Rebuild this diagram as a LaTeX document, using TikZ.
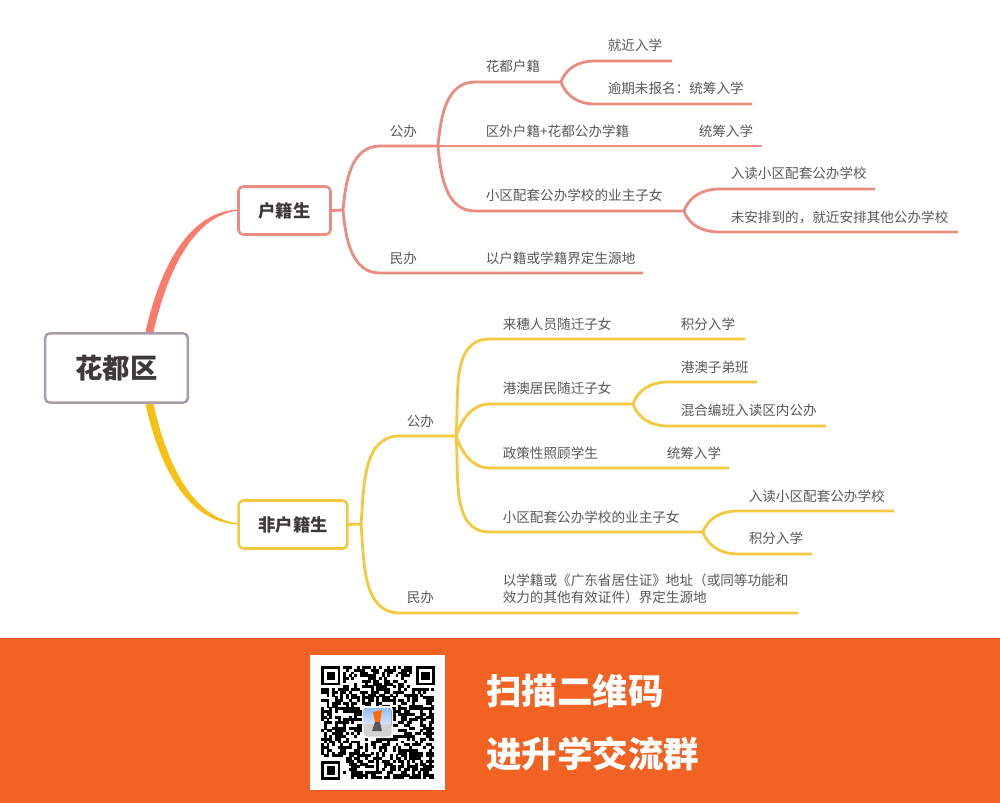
\documentclass[tikz,border=0pt]{standalone}
\usepackage{fontspec}
\setmainfont{Noto Sans CJK SC}
\usetikzlibrary{calc}
\definecolor{redline}{HTML}{EA8C80}
\definecolor{redroot}{HTML}{FB7A6A}
\definecolor{yelline}{HTML}{F5C93E}
\definecolor{yelroot}{HTML}{F6C014}
\definecolor{rootedge}{HTML}{A79DAB}
\definecolor{lbltext}{HTML}{595959}
\definecolor{boxtext}{HTML}{3F3A3A}
\definecolor{banner}{HTML}{F26222}
\tikzset{
	rootbox/.style={draw=rootedge, line width=1.9pt, rounded corners=3.5pt, fill=white, minimum width=107pt, minimum height=52pt, text=boxtext, font=\fontsize{20.5}{22}\selectfont\bfseries},
	catbox/.style={line width=1.9pt, rounded corners=3.5pt, fill=white, minimum height=36pt, text=boxtext, font=\fontsize{13}{15}\selectfont\bfseries},
	lbl/.style={anchor=west, inner sep=0pt, text=lbltext, font=\fontsize{10.2}{12.75}\selectfont},
	bigtext/.style={anchor=west, inner sep=0pt, text=white, font=\fontsize{26.6}{30}\selectfont\bfseries},
	branchred/.style={draw=redline, line width=2.1pt},
	branchyel/.style={draw=yelline, line width=2.1pt}
}
\begin{document}
\begin{tikzpicture}[x=0.75pt, y=-0.75pt]
	\useasboundingbox (0, 0) rectangle (1000, 803);
	\fill[white] (0, 0) rectangle (1000, 803);
	
	%%%%% tapered main branches
	\fill[redroot] (145, 334) .. controls (158, 275) and (185, 212) .. (238, 209.5) -- (238, 210.5) .. controls (192, 216) and (166, 275) .. (153, 334) -- cycle;
	\fill[yelroot] (145, 402) .. controls (158, 462) and (185, 522) .. (238, 524.5) -- (238, 523.5) .. controls (192, 518) and (166, 462) .. (153, 402) -- cycle;
	
	%%%%% boxes
	\node[rootbox] (root) at (116.5, 368) {花都区};
	\node[catbox, draw=redline, minimum width=69pt] (huji) at (284.5, 210.5) {户籍生};
	\node[catbox, draw=yelline, minimum width=81.5pt] (feihuji) at (293, 524.5) {非户籍生};
	
	%%%%% upper part
	\coordinate (rj) at (343, 210);
	\coordinate (rpubA) at (380, 146);
	\coordinate (rpubJ) at (438, 146);
	\coordinate (rpriA) at (380, 273);
	\coordinate (rpriE) at (643, 273);
	\coordinate (huaA) at (475, 82);
	\coordinate (huaJ) at (561, 82);
	\coordinate (jinA) at (595, 61);
	\coordinate (jinE) at (672, 61);
	\coordinate (yuA) at (595, 104);
	\coordinate (yuE) at (752, 104);
	\coordinate (quE) at (762, 146);
	\coordinate (xiaoA) at (475, 211);
	\coordinate (xiaoJ) at (684, 211);
	\coordinate (ruA) at (720, 189);
	\coordinate (ruE) at (875, 189);
	\coordinate (weiA) at (720, 232);
	\coordinate (weiE) at (958, 232);
	
	\draw[branchred] (huji.east) -- (rj);
	\draw[branchred] (rj) to[out=85, in=180] (rpubA) -- (rpubJ);
	\draw[branchred] (rj) to[out=-85, in=180] (rpriA) -- (rpriE);
	\draw[branchred] (rpubJ) to[out=85, in=180] (huaA) -- (huaJ);
	\draw[branchred] (rpubJ) -- (quE);
	\draw[branchred] (rpubJ) to[out=-85, in=180] (xiaoA) -- (xiaoJ);
	\draw[branchred] (huaJ) to[out=70, in=180] (jinA) -- (jinE);
	\draw[branchred] (huaJ) to[out=-70, in=180] (yuA) -- (yuE);
	\draw[branchred] (xiaoJ) to[out=70, in=180] (ruA) -- (ruE);
	\draw[branchred] (xiaoJ) to[out=-70, in=180] (weiA) -- (weiE);
	
	\node[lbl] (rpub) at (389.5, 131) {公办};
	\node[lbl] (rpri) at (389.5, 258) {民办};
	\node[lbl] (hua) at (485.5, 66) {花都户籍};
	\node[lbl] (jin) at (607.5, 45) {就近入学};
	\node[lbl] (yu) at (607.5, 88) {逾期未报名^^^^ff1a统筹入学};
	\node[lbl] (qu) at (485.5, 131) {区外户籍+花都公办学籍};
	\node[lbl] (tong) at (698.5, 131) {统筹入学};
	\node[lbl] (xiao) at (485.5, 195) {小区配套公办学校的业主子女};
	\node[lbl] (ru) at (730.5, 173) {入读小区配套公办学校};
	\node[lbl] (wei) at (730.5, 217) {未安排到的^^^^ff0c就近安排其他公办学校};
	\node[lbl] (yihu) at (485.5, 258) {以户籍或学籍界定生源地};
	
	%%%%% lower part
	\coordinate (yj) at (361, 524);
	\coordinate (ypubA) at (400, 436);
	\coordinate (ypubJ) at (456, 436);
	\coordinate (ypriA) at (400, 613);
	\coordinate (ypriE) at (798, 613);
	\coordinate (laiA) at (490, 339);
	\coordinate (laiE) at (745, 339);
	\coordinate (gangA) at (490, 404);
	\coordinate (gangJ) at (633, 404);
	\coordinate (ziA) at (668, 382);
	\coordinate (ziE) at (757, 382);
	\coordinate (hunA) at (668, 426);
	\coordinate (hunE) at (826, 426);
	\coordinate (zhengA) at (490, 468);
	\coordinate (zhengE) at (729, 468);
	\coordinate (yeA) at (490, 532);
	\coordinate (yeJ) at (703, 532);
	\coordinate (duA) at (738, 511);
	\coordinate (duE) at (894, 511);
	\coordinate (jiA) at (738, 554);
	\coordinate (jiE) at (812, 554);
	
	\draw[branchyel] (feihuji.east) -- (yj);
	\draw[branchyel] (yj) to[out=85, in=180] (ypubA) -- (ypubJ);
	\draw[branchyel] (yj) to[out=-85, in=180] (ypriA) -- (ypriE);
	\draw[branchyel] (ypubJ) to[out=85, in=180] (laiA) -- (laiE);
	\draw[branchyel] (ypubJ) to[out=70, in=180] (gangA) -- (gangJ);
	\draw[branchyel] (ypubJ) to[out=-70, in=180] (zhengA) -- (zhengE);
	\draw[branchyel] (ypubJ) to[out=-85, in=180] (yeA) -- (yeJ);
	\draw[branchyel] (gangJ) to[out=70, in=180] (ziA) -- (ziE);
	\draw[branchyel] (gangJ) to[out=-70, in=180] (hunA) -- (hunE);
	\draw[branchyel] (yeJ) to[out=70, in=180] (duA) -- (duE);
	\draw[branchyel] (yeJ) to[out=-70, in=180] (jiA) -- (jiE);
	
	\node[lbl] (ypub) at (406.5, 421) {公办};
	\node[lbl] (ypri) at (406.5, 597) {民办};
	\node[lbl] (lai) at (502.5, 324) {来穗人员随迁子女};
	\node[lbl] (jifen) at (680.5, 324) {积分入学};
	\node[lbl] (gang) at (502.5, 388) {港澳居民随迁子女};
	\node[lbl] (zi) at (680.5, 367) {港澳子弟班};
	\node[lbl] (hun) at (680.5, 410) {混合编班入读区内公办};
	\node[lbl] (zheng) at (502.5, 453) {政策性照顾学生};
	\node[lbl] (tongB) at (666.5, 453) {统筹入学};
	\node[lbl] (ye) at (502.5, 517) {小区配套公办学校的业主子女};
	\node[lbl] (du) at (748.5, 496) {入读小区配套公办学校};
	\node[lbl] (ji) at (748.5, 538) {积分入学};
	\node[lbl, align=left] (yixue) at (502.5, 588.5) {以学籍或《广东省居住证》地址^^^^ff08或同等功能和\\效力的其他有效证件^^^^ff09界定生源地};
	
	%%%%% banner
	\fill[banner] (0, 638) rectangle (1000, 803);
	\fill[white] (310, 655) rectangle (445, 790);
	
	%%%%% qr code, 41 modules
	\pgfmathsetseed{17}
	\foreach \r in {0,...,40}{
		\foreach \c in {0,...,40}{
			\pgfmathsetmacro{\cell}{rnd<0.56 ? 1 : 0}
			\pgfmathsetmacro{\skipit}{((\r<8 && \c<8) || (\r<8 && \c>32) || (\r>32 && \c<8) || (\r>15 && \r<25 && \c>15 && \c<25)) ? 1 : 0}
			\ifnum\skipit=0
				\ifdim\cell pt>0.5pt
					\fill[black] ({321+2.76*\c}, {666+2.76*\r}) rectangle ({321.2+2.76*(\c+1)}, {666.2+2.76*(\r+1)});
				\fi
			\fi
		}
	}
	\foreach \px/\py in {321/666, 415.8/666, 321/760.8}{
		\draw[black, line width=2.07pt] ({\px+1.38}, {\py+1.38}) rectangle ({\px+17.94}, {\py+17.94});
		\fill[black] ({\px+5.52}, {\py+5.52}) rectangle ({\px+13.8}, {\py+13.8});
	}
	
	%%%%% logo in the code
	\fill[white, rounded corners=3pt] (362, 706) rectangle (393, 738);
	\begin{scope}
		\clip[rounded corners=2.5pt] (363.5, 708) rectangle (391.5, 736.5);
		\fill[top color=cyan!45!blue!45, bottom color=blue!10] (363, 708) rectangle (392, 726);
		\fill[gray!35] (363, 724) rectangle (392, 737);
		\fill[orange!85!red] (373, 712) -- (382, 710) -- (380, 722) -- (375, 722) -- cycle;
		\fill[black!65] (375, 722) -- (380, 722) -- (382, 731) -- (372, 731) -- cycle;
	\end{scope}
	
	\node[bigtext] (scan) at (486, 690.5) {扫描二维码};
	\node[bigtext] (group) at (486, 754) {进升学交流群};
\end{tikzpicture}
\end{document}
